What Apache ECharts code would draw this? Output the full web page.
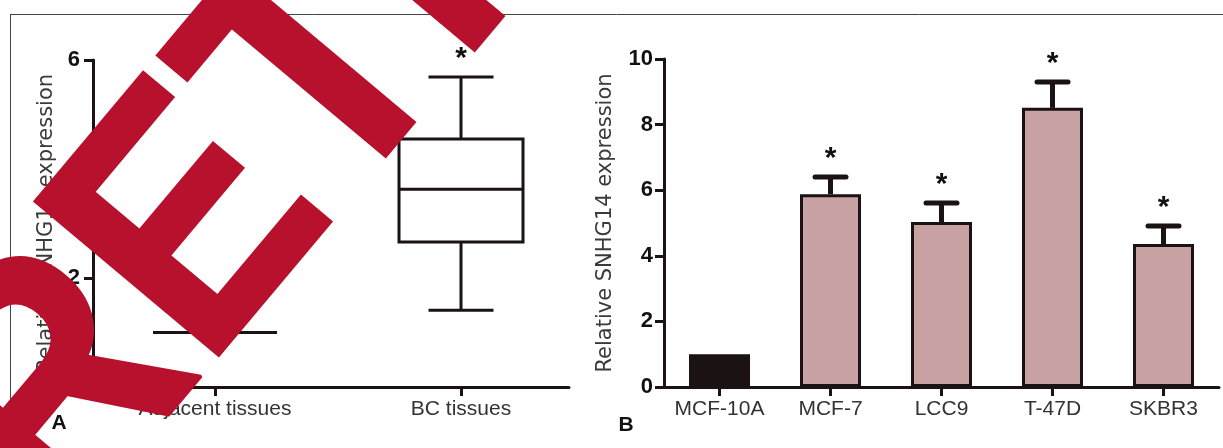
<!DOCTYPE html>
<html><head><meta charset="utf-8">
<script src="https://cdn.jsdelivr.net/npm/echarts@6/dist/echarts.min.js"></script>
<style>html,body{margin:0;padding:0;background:#fff}#c{width:1223px;height:448px}</style>
</head><body><div id="c"></div>
<script>
// ---- Panel A: box plot ----
const groupsA = ['Adjacent tissues', 'BC tissues'];
const groupPosA = [1, 2];
// min, q1, median, q3, max
const boxAdjacent = [1.0, 1.0, 1.0, 1.0, 1.0];
const boxBC = [1.41, 2.66, 3.63, 4.55, 5.69];
const sigA = ['', '*'];
const ticksA = [0, 2, 4, 6];

// ---- Panel B: bar chart ----
const cellLines = ['MCF-10A', 'MCF-7', 'LCC9', 'T-47D', 'SKBR3'];
const meanB = [1.0, 5.88, 5.03, 8.51, 4.36];
const upperB = [1.0, 6.40, 5.61, 9.30, 4.91];
const sigB = ['', '*', '*', '*', '*'];
const ticksB = [0, 2, 4, 6, 8, 10];

const yTitle = 'Relative SNHG14 expression';
const watermark = 'RETRACTED';

const INK = '#1a1213';
const PINK = '#c9a3a3';
const LABEL_FONT = '"Liberation Sans", Arial, sans-serif';
const TITLE_FONT = '"DejaVu Sans", sans-serif';

const chart = echarts.init(document.getElementById('c'), null, {renderer: 'canvas'});

function yAxisCommon(ticks, gap, margin) {
  return {
    type: 'value', min: ticks[0], max: ticks[ticks.length - 1], interval: ticks[1] - ticks[0],
    axisLine: {show: true, lineStyle: {color: INK, width: 3}},
    axisTick: {show: true, length: 9, lineStyle: {color: INK, width: 3}},
    axisLabel: {fontSize: 22, fontWeight: 'bold', color: '#111', fontFamily: LABEL_FONT, margin: margin},
    splitLine: {show: false},
    name: yTitle, nameLocation: 'middle', nameGap: gap,
    nameTextStyle: {fontSize: 21, color: '#3a3a3a', fontFamily: TITLE_FONT}
  };
}

const boxData = [boxAdjacent, boxBC].map((b, i) => [groupPosA[i]].concat(b));
const errData = cellLines.map((c, i) => [i, meanB[i], upperB[i]]);

chart.setOption({
  animation: false,
  backgroundColor: '#fff',
  grid: [
    {left: 93, top: 60, width: 476, height: 327},
    {left: 664, top: 59, width: 555, height: 328}
  ],
  xAxis: [
    {
      gridIndex: 0, type: 'value', min: 0.504, max: 2.439,
      axisLine: {show: true, lineStyle: {color: INK, width: 3}},
      axisTick: {show: true, length: 9, customValues: groupPosA, lineStyle: {color: INK, width: 3}},
      axisLabel: {customValues: groupPosA, formatter: v => groupsA[groupPosA.indexOf(v)] || '',
        fontSize: 21, color: '#333', fontFamily: LABEL_FONT, margin: 12},
      splitLine: {show: false}
    },
    {
      gridIndex: 1, type: 'category', data: cellLines,
      axisLine: {show: true, lineStyle: {color: INK, width: 3}},
      axisTick: {show: true, alignWithLabel: true, interval: 0, length: 9, lineStyle: {color: INK, width: 3}},
      axisLabel: {interval: 0, fontSize: 21, color: '#333', fontFamily: LABEL_FONT, margin: 12},
      splitLine: {show: false}
    }
  ],
  yAxis: [
    Object.assign({gridIndex: 0}, yAxisCommon(ticksA, 36, 13)),
    Object.assign({gridIndex: 1}, yAxisCommon(ticksB, 48, 11))
  ],
  series: [
    {
      type: 'custom', xAxisIndex: 0, yAxisIndex: 0, data: boxData,
      encode: {x: 0, y: [1, 2, 3, 4, 5]},
      renderItem: function (params, api) {
        const x = api.value(0);
        const p = [1, 2, 3, 4, 5].map(k => api.coord([x, api.value(k)]));
        const cx = p[0][0];
        const hw = 62, cw = 32.5;
        const st = {stroke: INK, lineWidth: 3, fill: null};
        const ch = [
          {type: 'line', shape: {x1: cx, y1: p[0][1], x2: cx, y2: p[1][1]}, style: st},
          {type: 'line', shape: {x1: cx, y1: p[3][1], x2: cx, y2: p[4][1]}, style: st},
          {type: 'line', shape: {x1: cx - cw, y1: p[0][1], x2: cx + cw, y2: p[0][1]}, style: st},
          {type: 'line', shape: {x1: cx - cw, y1: p[4][1], x2: cx + cw, y2: p[4][1]}, style: st},
          {type: 'rect', shape: {x: cx - hw, y: p[3][1], width: 2 * hw, height: p[1][1] - p[3][1]},
            style: {stroke: INK, lineWidth: 3, fill: '#fff'}},
          {type: 'line', shape: {x1: cx - hw, y1: p[2][1], x2: cx + hw, y2: p[2][1]}, style: st}
        ];
        const s = sigA[params.dataIndex];
        if (s) ch.push({type: 'text', style: {x: cx, y: p[4][1] - 3, text: s,
          font: 'bold 30px ' + LABEL_FONT, fill: '#111', textAlign: 'center', textVerticalAlign: 'bottom'}});
        return {type: 'group', children: ch};
      }
    },
    {
      type: 'bar', xAxisIndex: 1, yAxisIndex: 1, barWidth: 61,
      data: meanB.map((v, i) => ({value: v, itemStyle: {color: i === 0 ? INK : PINK}})),
      itemStyle: {borderColor: INK, borderWidth: 3}
    },
    {
      type: 'custom', xAxisIndex: 1, yAxisIndex: 1, data: errData, z: 5,
      encode: {x: 0, y: [1, 2]},
      renderItem: function (params, api) {
        const i = api.value(0);
        const top = api.coord([i, api.value(1)]);
        const up = api.coord([i, api.value(2)]);
        const ch = [];
        if (up[1] < top[1] - 1) {
          const st = {stroke: INK, lineWidth: 5, lineCap: 'round'};
          ch.push({type: 'line', shape: {x1: top[0], y1: top[1], x2: up[0], y2: up[1]}, style: {stroke: INK, lineWidth: 5}});
          ch.push({type: 'line', shape: {x1: up[0] - 15.5, y1: up[1], x2: up[0] + 15.5, y2: up[1]}, style: st});
        }
        const s = sigB[params.dataIndex];
        if (s) ch.push({type: 'text', style: {x: up[0], y: up[1] - 3, text: s,
          font: 'bold 30px ' + LABEL_FONT, fill: '#111', textAlign: 'center', textVerticalAlign: 'bottom'}});
        return {type: 'group', children: ch};
      }
    }
  ],
  graphic: [
    {type: 'line', z: 1, shape: {x1: 10, y1: 14.5, x2: 1223, y2: 14.5}, style: {stroke: '#444', lineWidth: 1}},
    {type: 'line', z: 1, shape: {x1: 10.5, y1: 14, x2: 10.5, y2: 448}, style: {stroke: '#444', lineWidth: 1}},
    {type: 'text', z: 10, x: 59, y: 423, style: {text: 'A', font: 'bold 21px ' + LABEL_FONT, fill: '#111',
      textAlign: 'center', textVerticalAlign: 'middle'}},
    {type: 'text', z: 10, x: 626, y: 425, style: {text: 'B', font: 'bold 21px ' + LABEL_FONT, fill: '#111',
      textAlign: 'center', textVerticalAlign: 'middle'}},
    {type: 'text', z: 100, x: -13, y: 482, rotation: 50 * Math.PI / 180, scaleX: 0.93, scaleY: 1.04,
      style: {text: watermark, font: 'bold 335px ' + LABEL_FONT, fill: '#b7112d',
        stroke: '#b7112d', lineWidth: 3,
        textAlign: 'left', textVerticalAlign: 'middle'}}
  ]
});
</script></body></html>
